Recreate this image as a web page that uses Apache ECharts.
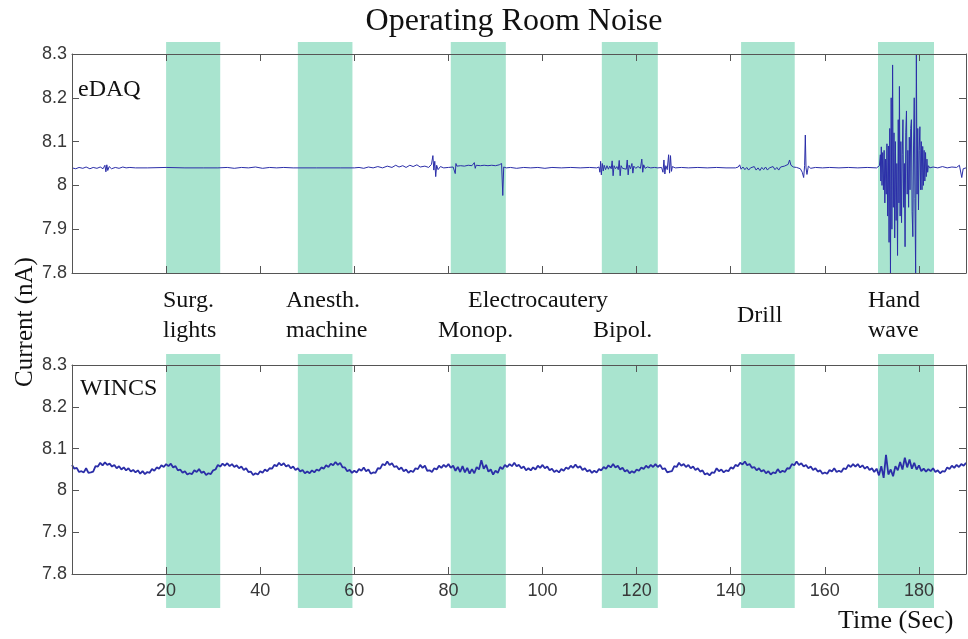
<!DOCTYPE html>
<html>
<head>
<meta charset="utf-8">
<script src="https://cdn.jsdelivr.net/npm/echarts@6/dist/echarts.min.js"></script>
<style>html,body{margin:0;padding:0;background:#fff}#c{width:968px;height:639px}</style>
</head>
<body>
<div id="c"></div>
<script>
// ---------- DATA ----------
const titleText = 'Operating Room Noise';
const xTicks = {min: 0, max: 190, interval: 20};
const yTicks = {min: 7.8, max: 8.3, interval: 0.1};
// stimulus intervals (s)
const bandStart = [20, 48, 80.5, 112.6, 142.2, 171.3];
const bandEnd   = [31.5, 59.6, 92.2, 124.5, 153.6, 183.2];
const bandLabels = [['Surg.', 'lights'], ['Anesth.', 'machine'], ['Electrocautery'], ['Monop.'], ['Bipol.'], ['Drill'], ['Hand', 'wave']];

// eDAQ recording: [time (s), current (nA)]
const edaqSamples = [
[0,8.04],[0.8,8.038],[1.5,8.041],[2.3,8.039],[3,8.042],[3.8,8.038],[4.5,8.041],[5.3,8.039],[6,8.042],[6.6,8.038],[7,8.046],[7.2,8.031],[7.4,8.047],[7.6,8.034],[7.9,8.043],[8.4,8.038],[9.2,8.041],[10,8.039],[10.8,8.042],[11.5,8.04],[12.3,8.041],[13.5,8.04],[16,8.04],[20,8.041],[24,8.04],[28,8.04],[31,8.04],[33,8.041],[34.5,8.039],[36,8.041],[37.5,8.04],[39,8.042],[40.5,8.039],[42,8.041],[43.5,8.04],[45,8.041],[47,8.04],[52,8.04],[57,8.04],[60,8.04],[61,8.041],[62,8.039],[63,8.042],[64,8.04],[65,8.043],[66,8.04],[67,8.044],[68,8.041],[68.8,8.046],[69.5,8.042],[70.3,8.045],[71,8.041],[71.8,8.046],[72.5,8.043],[73.3,8.047],[74,8.042],[75,8.044],[75.8,8.041],[76.4,8.048],[76.7,8.068],[76.9,8.035],[77.1,8.055],[77.3,8.02],[77.5,8.046],[77.8,8.036],[78.3,8.043],[79,8.04],[80,8.041],[81,8.042],[81.3,8.044],[81.45,8.027],[81.6,8.05],[81.8,8.044],[82.6,8.045],[83.4,8.044],[84.2,8.046],[85,8.045],[85.5,8.052],[85.7,8.039],[85.9,8.046],[86.8,8.045],[87.6,8.046],[88.4,8.045],[89.2,8.046],[90,8.045],[90.8,8.047],[91.3,8.05],[91.55,7.977],[91.75,8.042],[92.3,8.04],[93.2,8.041],[94.5,8.039],[96,8.041],[97.5,8.04],[99,8.041],[100.5,8.039],[102,8.041],[104,8.04],[106,8.041],[108,8.04],[110,8.041],[111.5,8.04],
[112,8.042],[112.2,8.03],[112.35,8.055],[112.5,8.024],[112.7,8.05],[112.9,8.033],[113.1,8.046],[113.4,8.036],[113.7,8.045],[114,8.037],[114.3,8.044],[114.6,8.038],[114.8,8.056],[115,8.022],[115.2,8.045],[115.5,8.038],[115.8,8.043],[116.1,8.036],[116.3,8.057],[116.5,8.022],[116.7,8.045],[117,8.039],[117.4,8.043],[117.8,8.037],[118,8.058],[118.2,8.024],[118.4,8.046],[118.7,8.038],[119,8.05],[119.2,8.028],[119.4,8.044],[119.8,8.039],[120.3,8.043],[120.8,8.039],[121.1,8.06],[121.3,8.03],[121.5,8.047],[121.8,8.039],[122.3,8.042],[123,8.04],[123.8,8.041],[124.5,8.04],[125.3,8.041],[125.6,8.03],[125.8,8.058],[126,8.026],[126.2,8.045],[126.5,8.036],[126.8,8.07],[127,8.028],[127.2,8.068],[127.4,8.032],[127.6,8.043],[128.2,8.04],[129.5,8.041],[131,8.04],[133,8.041],[135,8.04],[137,8.041],[139,8.04],[141,8.04],
[141.6,8.042],[141.9,8.047],[142.2,8.037],[142.6,8.042],[143,8.036],[143.4,8.041],[143.8,8.035],[144.2,8.04],[144.6,8.036],[145,8.043],[145.4,8.035],[145.8,8.04],[146.2,8.034],[146.6,8.041],[147,8.036],[147.4,8.042],[147.8,8.035],[148.2,8.04],[148.6,8.037],[149,8.043],[149.4,8.036],[149.8,8.041],[150.2,8.035],[150.6,8.042],[151,8.038],[151.4,8.044],[151.8,8.04],[152.2,8.048],[152.5,8.058],[152.8,8.046],[153.3,8.042],[154,8.041],[154.8,8.038],[155.2,8.03],[155.5,8.018],[155.7,8.045],[155.85,8.115],[156,8.04],[156.2,8.025],[156.5,8.044],[157,8.039],[158,8.041],[159.5,8.04],[161,8.041],[163,8.04],[165,8.041],[167,8.04],[169,8.041],[171,8.04],
[171.6,8.045],[171.8,8.07],[171.9,8.01],[172,8.088],[172.15,8.0],[172.3,8.075],[172.45,7.99],[172.6,8.08],[172.75,7.96],[172.9,8.06],[173.05,7.98],[173.2,8.095],[173.35,7.93],[173.5,8.09],[173.65,7.87],[173.8,8.13],[173.95,7.8],[174.1,8.2],[174.25,7.9],[174.4,8.275],[174.55,7.95],[174.7,8.12],[174.85,7.88],[175,8.1],[175.15,7.92],[175.3,8.05],[175.45,7.84],[175.6,8.15],[175.75,7.96],[175.85,8.226],[176,7.93],[176.15,8.1],[176.3,7.915],[176.45,8.07],[176.6,8.15],[176.75,7.95],[176.9,8.05],[177.05,7.86],[177.2,8.12],[177.35,8.17],[177.5,7.98],[177.65,8.08],[177.8,7.95],[177.95,8.11],[178.1,7.99],[178.25,8.13],[178.4,8.15],[178.55,7.94],[178.7,7.883],[178.85,8.09],[179,8.2],[179.15,7.97],[179.3,7.8],[179.45,8.3],[179.6,7.98],[179.75,8.13],[179.9,7.944],[180.05,8.08],[180.2,8.134],[180.35,7.99],[180.5,8.1],[180.65,7.99],[180.8,8.089],[180.95,8.0],[181.1,8.08],[181.25,8.01],[181.4,8.075],[181.55,8.02],[181.7,8.06],[181.85,8.03],[182,8.045],[182.3,8.04],[183,8.042],[184,8.04],[185,8.043],[186,8.04],[187,8.042],[188,8.041],[188.6,8.046],[188.9,8.043],[189.1,8.018],[189.4,8.038],[190,8.04]
];

// WINCS recording: one value every 0.5 s starting at 0 s (nA)
const wincsStep = 0.5;
const wincsCurrent = [
8.061,8.052,8.054,8.044,8.046,8.043,8.053,8.042,8.043,8.045,
8.058,8.057,8.066,8.06,8.067,8.061,8.064,8.057,8.061,8.053,
8.058,8.05,8.055,8.048,8.053,8.045,8.049,8.043,8.048,8.04,
8.046,8.039,8.044,8.042,8.051,8.047,8.055,8.052,8.06,8.056,
8.063,8.058,8.064,8.055,8.058,8.048,8.05,8.042,8.046,8.038,
8.041,8.039,8.048,8.044,8.051,8.042,8.045,8.037,8.041,8.039,
8.048,8.05,8.061,8.057,8.064,8.059,8.065,8.058,8.063,8.056,
8.06,8.053,8.057,8.049,8.053,8.044,8.045,8.037,8.041,8.038,
8.046,8.042,8.05,8.046,8.053,8.052,8.061,8.058,8.066,8.06,
8.065,8.057,8.061,8.053,8.057,8.049,8.053,8.045,8.049,8.041,
8.045,8.041,8.048,8.043,8.05,8.047,8.055,8.052,8.06,8.056,
8.064,8.06,8.068,8.061,8.066,8.055,8.055,8.046,8.049,8.042,
8.047,8.043,8.051,8.047,8.055,8.046,8.05,8.04,8.043,8.042,
8.053,8.052,8.063,8.06,8.069,8.061,8.065,8.056,8.058,8.05,
8.055,8.046,8.05,8.042,8.047,8.044,8.053,8.051,8.061,8.054,
8.059,8.047,8.048,8.044,8.053,8.05,8.059,8.054,8.061,8.056,
8.063,8.054,8.059,8.047,8.056,8.044,8.058,8.043,8.054,8.04,
8.051,8.041,8.056,8.05,8.072,8.052,8.061,8.045,8.05,8.038,
8.047,8.042,8.056,8.051,8.061,8.056,8.063,8.058,8.066,8.058,
8.061,8.053,8.057,8.048,8.053,8.048,8.055,8.05,8.059,8.054,
8.061,8.053,8.057,8.048,8.052,8.044,8.048,8.043,8.051,8.047,
8.055,8.051,8.059,8.054,8.062,8.054,8.058,8.049,8.053,8.045,
8.049,8.042,8.047,8.043,8.051,8.048,8.056,8.052,8.06,8.055,
8.063,8.055,8.059,8.05,8.054,8.045,8.049,8.041,8.046,8.042,
8.05,8.047,8.055,8.051,8.059,8.054,8.061,8.056,8.063,8.056,
8.061,8.051,8.053,8.043,8.045,8.046,8.058,8.056,8.066,8.059,
8.063,8.056,8.061,8.053,8.057,8.049,8.053,8.045,8.048,8.038,
8.041,8.036,8.043,8.042,8.053,8.046,8.05,8.043,8.048,8.046,
8.055,8.052,8.061,8.058,8.066,8.062,8.069,8.06,8.063,8.054,
8.056,8.048,8.053,8.045,8.049,8.041,8.046,8.038,8.043,8.041,
8.051,8.043,8.047,8.044,8.053,8.052,8.063,8.06,8.069,8.061,
8.065,8.057,8.061,8.053,8.057,8.049,8.053,8.045,8.048,8.04,
8.043,8.04,8.049,8.045,8.053,8.044,8.047,8.044,8.053,8.051,
8.061,8.056,8.063,8.057,8.063,8.055,8.06,8.052,8.057,8.049,
8.053,8.044,8.052,8.036,8.058,8.03,8.085,8.038,8.05,8.034,
8.058,8.048,8.068,8.05,8.078,8.055,8.074,8.052,8.066,8.05,
8.06,8.046,8.052,8.045,8.051,8.046,8.053,8.044,8.048,8.041,
8.046,8.045,8.055,8.051,8.059,8.054,8.061,8.056,8.063,8.059,
8.066
];

// ---------- STYLE ----------
const BAND_COLOR = '#a9e4cf';
const LINE_COLOR = '#2b2ea8';
const AXIS_COLOR = '#555';
const LABEL_COLOR = '#383838';
const SERIF = '"Liberation Serif", "Times New Roman", serif';
const SANS = '"Liberation Sans", Arial, sans-serif';

const chart = echarts.init(document.getElementById('c'), null, {renderer: 'canvas'});

const bands = bandStart.map((s, i) => [s, bandEnd[i]]);
const wincsData = wincsCurrent.map((v, i) => [i * wincsStep, v]);

function bandRenderer(extTop, extBottom) {
  return function (params, api) {
    const p0 = api.coord([api.value(0), yTicks.max]);
    const p1 = api.coord([api.value(1), yTicks.min]);
    return {
      type: 'rect',
      shape: {x: p0[0], y: p0[1] - extTop, width: p1[0] - p0[0], height: p1[1] - p0[1] + extTop + extBottom},
      style: {fill: BAND_COLOR}
    };
  };
}

function xAx(grid, pos, showLabel) {
  return {
    type: 'value', gridIndex: grid, position: pos,
    min: xTicks.min, max: xTicks.max, interval: xTicks.interval,
    z: 5,
    axisLine: {show: true, onZero: false, lineStyle: {color: AXIS_COLOR, width: 1}},
    axisTick: {show: true, inside: true, length: 7, lineStyle: {color: AXIS_COLOR}},
    axisLabel: {show: showLabel, showMinLabel: false, showMaxLabel: false, margin: 8,
      color: LABEL_COLOR, fontFamily: SANS, fontSize: 18},
    splitLine: {show: false}
  };
}
function yAx(grid, pos, showLabel) {
  return {
    type: 'value', gridIndex: grid, position: pos,
    min: yTicks.min, max: yTicks.max, interval: yTicks.interval,
    z: 5,
    axisLine: {show: true, onZero: false, lineStyle: {color: AXIS_COLOR, width: 1}},
    axisTick: {show: true, inside: true, length: 7, lineStyle: {color: AXIS_COLOR}},
    axisLabel: {show: showLabel, margin: 5, color: LABEL_COLOR, fontFamily: SANS, fontSize: 18},
    splitLine: {show: false}
  };
}

function txt(x, y, text, size, align) {
  return {type: 'text', x: x, y: y, z: 10,
    style: {text: text, font: size + 'px ' + SERIF, fill: '#111', textAlign: align || 'left', textVerticalAlign: 'middle'}};
}

const graphics = [
  txt(514, 22, titleText, 32, 'center'),
  txt(78, 90, 'eDAQ', 24),
  txt(80, 389, 'WINCS', 24),
  txt(163, 300.5, bandLabels[0][0], 24), txt(163, 330.5, bandLabels[0][1], 24),
  txt(286, 300.5, bandLabels[1][0], 24), txt(286, 330.5, bandLabels[1][1], 24),
  txt(468, 300.5, bandLabels[2][0], 24),
  txt(438, 330.5, bandLabels[3][0], 24),
  txt(593, 330.5, bandLabels[4][0], 24),
  txt(737, 315.5, bandLabels[5][0], 24),
  txt(868, 300.5, bandLabels[6][0], 24), txt(868, 330.5, bandLabels[6][1], 24),
  txt(838, 621, 'Time (Sec)', 26),
  {type: 'text', x: 25, y: 322, rotation: Math.PI / 2, z: 10,
    style: {text: 'Current (nA)', font: '25px ' + SERIF, fill: '#111', textAlign: 'center', textVerticalAlign: 'middle'}}
];

chart.setOption({
  animation: false,
  backgroundColor: '#fff',
  grid: [
    {left: 72, right: 2, top: 54, height: 219},
    {left: 72, right: 2, top: 365, height: 209}
  ],
  xAxis: [xAx(0, 'bottom', false), xAx(0, 'top', false), xAx(1, 'bottom', true), xAx(1, 'top', false)],
  yAxis: [yAx(0, 'left', true), yAx(0, 'right', false), yAx(1, 'left', true), yAx(1, 'right', false)],
  graphic: graphics,
  series: [
    {type: 'custom', xAxisIndex: 0, yAxisIndex: 0, data: bands, encode: {x: [0, 1]},
      renderItem: bandRenderer(12, 0), clip: false, z: 1, silent: true},
    {type: 'custom', xAxisIndex: 2, yAxisIndex: 2, data: bands, encode: {x: [0, 1]},
      renderItem: bandRenderer(11, 34), clip: false, z: 1, silent: true},
    {type: 'line', xAxisIndex: 0, yAxisIndex: 0, data: edaqSamples, showSymbol: false,
      lineStyle: {color: LINE_COLOR, width: 1}, z: 3, clip: true},
    {type: 'line', xAxisIndex: 2, yAxisIndex: 2, data: wincsData, showSymbol: false,
      lineStyle: {color: LINE_COLOR, width: 1.8}, z: 3, clip: true}
  ]
});
</script>
</body>
</html>
